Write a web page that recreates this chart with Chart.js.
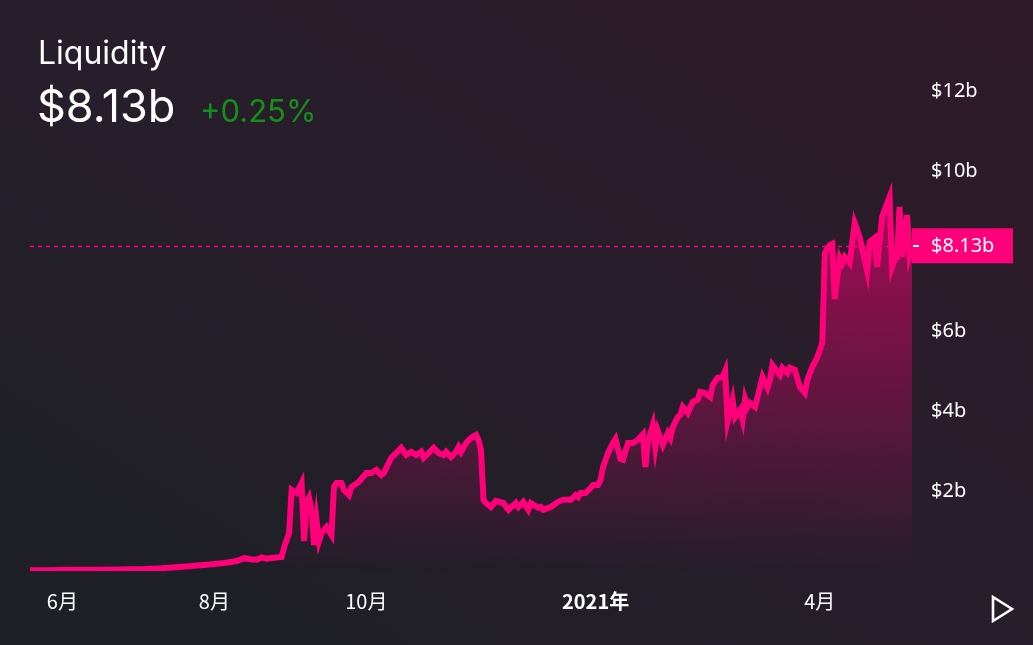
<!DOCTYPE html>
<html>
<head>
<meta charset="utf-8">
<script src="https://cdn.jsdelivr.net/npm/chart.js@4"></script>
<style>
  body { margin: 0; }
  #wrap {
    position: relative; width: 1033px; height: 645px; overflow: hidden;
    background: linear-gradient(to bottom left, #2f1a29 0%, #281e2b 45%, #1f1f27 85%);
    font-family: Inter, Roboto, sans-serif; color: #fff;
  }
  #liq { position: absolute; left: 0; top: 0; }
  .title { position: absolute; left: 38px; top: 37px; font-size: 32px; line-height: 1; }
  .big { position: absolute; left: 37px; top: 83px; font-size: 45px; line-height: 1; }
  .chg { position: absolute; left: 200px; top: 95px; font-size: 31px; line-height: 1; color: #15901a; }
  #play { position: absolute; left: 988px; top: 593px; }
</style>
</head>
<body>
<div id="wrap">
  <canvas id="liq" width="1033" height="645"></canvas>
  <div class="title">Liquidity</div>
  <div class="big">$8.13b</div>
  <div class="chg">+0.25%</div>
  <svg id="play" width="30" height="32"><polygon points="5,4 24,16 5,28" fill="none" stroke="#fff" stroke-width="2.6" stroke-linejoin="miter"/></svg>
</div>
<script>
  // days counted from 2020-06-01, liquidity in billions of dollars
  const days = [
    -13, -6, 3, 13, 23, 33, 40, 47, 53, 59, 65, 70, 73, 76, 78, 80, 82, 85, 88,
    89, 91, 92, 94, 96, 97, 98, 99, 100, 101, 102, 103, 104, 106, 108, 109, 110,
    112, 113, 115, 116, 119, 122, 124, 126, 128, 129, 132, 134, 136, 138, 140,
    142, 144, 145, 147, 149, 151, 153, 154, 156, 158, 159, 160, 162, 164, 166,
    167, 168, 169, 170, 172, 174, 177, 179, 182, 183, 185, 187, 188, 191, 192,
    193, 196, 199, 201, 204, 206, 207, 208, 210, 212, 213, 215, 216, 217, 219,
    221, 222, 224, 225, 227, 229, 231, 233, 234, 235, 237, 238, 239, 241, 243,
    244, 245, 247, 248, 249, 251, 253, 255, 256, 258, 260, 261, 263, 265, 266,
    267, 269, 270, 272, 273, 274, 275, 276, 278, 280, 281, 283, 284, 285, 287,
    288, 289, 291, 292, 294, 296, 298, 299, 301, 303, 305, 306, 308, 309, 310,
    312, 313, 314, 316, 318, 320, 323, 324, 326, 327, 329, 332, 333, 334, 335,
    336, 337, 339, 340, 341
  ];
  const liquidity = [
    0.02, 0.02, 0.03, 0.03, 0.04, 0.05, 0.07, 0.10, 0.13, 0.16, 0.20, 0.25, 0.32, 0.29, 0.28, 0.34, 0.31, 0.33, 0.35,
    0.6, 0.95, 2.03, 1.95, 2.2, 0.75, 1.7, 1.83, 1.53, 0.65, 1.28, 0.75, 0.95, 1.1, 0.9, 2.1, 2.2,
    2.2, 2.03, 1.9, 2.1, 2.23, 2.45, 2.45, 2.53, 2.4, 2.45, 2.83, 2.95, 3.08, 2.9, 2.98,
    2.9, 2.98, 2.83, 2.95, 3.08, 2.95, 2.9, 2.98, 2.85, 2.98, 3.1, 2.98, 3.2, 3.33, 3.4,
    3.28, 3.03, 1.78, 1.7, 1.6, 1.75, 1.7, 1.53, 1.7, 1.6, 1.73, 1.53, 1.7, 1.58, 1.6,
    1.53, 1.6, 1.73, 1.78, 1.78, 1.9, 1.85, 1.95, 1.95, 2.08, 2.15, 2.15, 2.28, 2.6, 2.95,
    3.2, 3.3, 2.8, 2.78, 3.2, 3.2, 3.28, 3.42, 2.6, 3.23, 3.65, 3.1, 3.5, 3.15, 3.45,
    3.33, 3.6, 3.85, 3.9, 4.1, 3.95, 4.23, 4.28, 4.48, 4.45, 4.35, 4.65, 4.83, 4.85, 5.0,
    3.75, 4.28, 3.85, 4.03, 3.78, 4.3, 4.1, 4.2, 4.1, 4.6, 4.85, 4.58, 4.78, 5.15, 4.98,
    4.9, 5.08, 4.95, 5.08, 5.03, 4.6, 4.45, 4.78, 5.1, 5.35, 5.7, 7.95, 8.15, 8.18, 6.8,
    7.83, 7.7, 7.85, 7.7, 8.7, 8.35, 7.5, 8.23, 8.33, 7.6, 8.85, 9.35, 7.6, 7.78, 7.83,
    9.1, 7.85, 8.9, 7.9, 8.13
  ];
  const monthTickDays = [0, 61, 122, 214, 304];
  const monthTickLabels = ['6月', '8月', '10月', '2021年', '4月'];
  const yTickValues = [2, 4, 6, 10, 12];
  const lastValue = 8.13;

  const pink = '#ff007a';

  // dashed line at the latest value, drawn under the series
  const lastLine = {
    id: 'lastLine',
    beforeDatasetsDraw(chart) {
      const { ctx, chartArea, scales } = chart;
      const y = Math.round(scales.y.getPixelForValue(lastValue)) + 0.5;
      ctx.save();
      ctx.strokeStyle = pink;
      ctx.lineWidth = 1.5;
      ctx.setLineDash([4, 4]);
      ctx.beginPath();
      ctx.moveTo(chartArea.left, y);
      ctx.lineTo(chartArea.right, y);
      ctx.stroke();
      ctx.restore();
    },
    afterDraw(chart) {
      const { ctx, chartArea, scales } = chart;
      const y = scales.y.getPixelForValue(lastValue);
      const x = chartArea.right;
      ctx.save();
      ctx.fillStyle = pink;
      ctx.fillRect(x, y - 17.5, 101, 35);
      ctx.fillStyle = '#fff';
      ctx.fillRect(x + 1, Math.round(y) - 1, 6, 2);
      ctx.font = '20px "Noto Sans"';
      ctx.textBaseline = 'middle';
      ctx.fillText('$' + lastValue + 'b', x + 19, y);
      ctx.restore();
    }
  };

  const ctx = document.getElementById('liq');
  const chart = new Chart(ctx, {
    type: 'line',
    data: {
      datasets: [{
        label: 'Liquidity',
        data: days.map((d, i) => ({ x: d, y: liquidity[i] })),
        borderColor: pink,
        borderWidth: 6,
        pointRadius: 0,
        tension: 0,
        fill: 'origin',
        backgroundColor: (c) => {
          const area = c.chart.chartArea;
          if (!area) return 'rgba(255,0,122,0.3)';
          const g = c.chart.ctx.createLinearGradient(0, area.top, 0, area.bottom);
          g.addColorStop(0, 'rgba(255,0,122,0.8)');
          g.addColorStop(1, 'rgba(255,0,122,0)');
          return g;
        }
      }]
    },
    options: {
      responsive: false,
      animation: false,
      layout: { padding: { left: 30, top: 51, right: 0, bottom: 0 } },
      plugins: { legend: { display: false }, tooltip: { enabled: false } },
      scales: {
        x: {
          type: 'linear',
          min: -13,
          max: 341,
          grid: { display: false, drawTicks: false },
          border: { display: false },
          afterBuildTicks: (s) => { s.ticks = monthTickDays.map(v => ({ value: v })); },
          afterFit: (s) => { s.height = 74; },
          ticks: {
            autoSkip: false,
            maxRotation: 0,
            padding: 18,
            color: '#fff',
            font: (c) => ({
              family: '"Noto Sans CJK SC", "Noto Sans"',
              size: 20,
              weight: c.tick && c.tick.value === 214 ? 'bold' : 'normal'
            }),
            callback: (v) => monthTickLabels[monthTickDays.indexOf(v)]
          }
        },
        y: {
          position: 'right',
          min: 0,
          max: 13,
          grid: { display: false, drawTicks: false },
          border: { display: false },
          afterBuildTicks: (s) => { s.ticks = yTickValues.map(v => ({ value: v })); },
          afterFit: (s) => { s.width = 121; },
          ticks: {
            padding: 19,
            color: '#fff',
            font: { family: '"Noto Sans"', size: 20 },
            callback: (v) => '$' + v + 'b'
          }
        }
      }
    },
    plugins: [lastLine]
  });
</script>
</body>
</html>
